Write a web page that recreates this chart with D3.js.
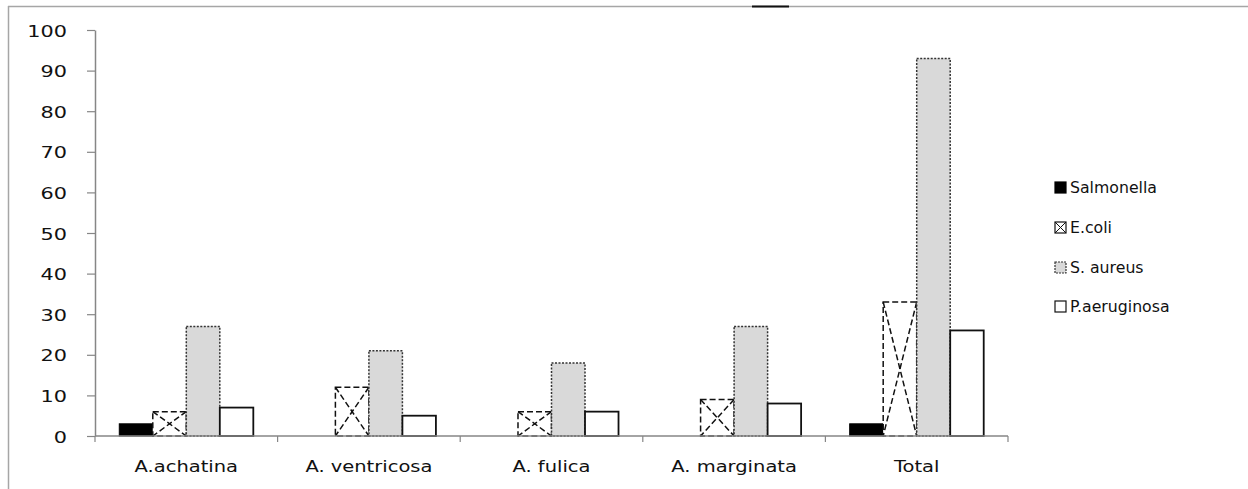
<!DOCTYPE html>
<html><head><meta charset="utf-8">
<script src="https://cdn.jsdelivr.net/npm/d3@7"></script>
<style>body{margin:0;background:#fff}svg{display:block}text{font-family:"DejaVu Sans",sans-serif;fill:#111}</style>
</head><body><svg id="c" width="1248" height="489"></svg>
<script>
const categories = ["A.achatina", "A. ventricosa", "A. fulica", "A. marginata", "Total"];
const seriesNames = ["Salmonella", "E.coli", "S. aureus", "P.aeruginosa"];
const salmonella = [3, 0, 0, 0, 3];
const ecoli = [6, 12, 6, 9, 33];
const saureus = [27, 21, 18, 27, 93];
const paeruginosa = [7, 5, 6, 8, 26];
const yTicks = [0, 10, 20, 30, 40, 50, 60, 70, 80, 90, 100];
const seriesValues = [salmonella, ecoli, saureus, paeruginosa];

const svg = d3.select("#c");
const SX = 1.3;

// frame
svg.append("line").attr("x1", 8).attr("x2", 1248).attr("y1", 6.5).attr("y2", 6.5).attr("stroke", "#a6a6a6").attr("stroke-width", 1.5);
svg.append("line").attr("x1", 8.5).attr("x2", 8.5).attr("y1", 6).attr("y2", 489).attr("stroke", "#a6a6a6").attr("stroke-width", 1.5);
svg.append("line").attr("x1", 752).attr("x2", 789).attr("y1", 6.5).attr("y2", 6.5).attr("stroke", "#111").attr("stroke-width", 2);

const x = d3.scaleBand().domain(categories).range([95, 1008]).paddingInner(0.266).paddingOuter(0.133);
const xs = d3.scaleBand().domain(seriesNames).range([0, x.bandwidth()]);
const y = d3.scaleLinear().domain([0, 100]).range([436, 30]);

// y axis
const ya = svg.append("g").attr("transform", "translate(95,0)")
  .call(d3.axisLeft(y).tickValues(yTicks).tickSize(8).tickSizeOuter(0));
ya.select(".domain").attr("stroke", "#868686").attr("stroke-width", 1.5);
ya.selectAll(".tick line").attr("stroke", "#868686").attr("stroke-width", 1.2);
ya.selectAll(".tick text").attr("x", 0).attr("dy", null).attr("y", 6)
  .attr("transform", `translate(-28,0) scale(${SX},1)`)
  .attr("font-size", 16).attr("font-family", "DejaVu Sans").attr("fill", "#111").attr("text-anchor", "end");

// bars
const g = svg.append("g");
const styles = [
  {fill: "#000", stroke: "#000", dash: null, w: 1},
  {fill: "#fff", stroke: "#111", dash: "6,3", w: 1.5},
  {fill: "#d9d9d9", stroke: "#333", dash: "2,1.5", w: 1.5},
  {fill: "#fff", stroke: "#111", dash: null, w: 1.8}
];
seriesNames.forEach((s, si) => {
  const st = styles[si];
  categories.forEach((c, ci) => {
    const v = seriesValues[si][ci];
    if (!v) return;
    const x0 = x(c) + xs(s), w = xs.bandwidth(), y0 = y(v), h = y(0) - y(v);
    g.append("rect").attr("x", x0).attr("y", y0).attr("width", w).attr("height", h)
      .attr("fill", st.fill).attr("stroke", st.stroke).attr("stroke-width", st.w)
      .attr("stroke-dasharray", st.dash);
    if (si === 1) {
      g.append("line").attr("x1", x0).attr("y1", y0).attr("x2", x0 + w).attr("y2", y(0))
        .attr("stroke", "#111").attr("stroke-width", 1.5).attr("stroke-dasharray", st.dash);
      g.append("line").attr("x1", x0 + w).attr("y1", y0).attr("x2", x0).attr("y2", y(0))
        .attr("stroke", "#111").attr("stroke-width", 1.5).attr("stroke-dasharray", st.dash);
    }
  });
});

// x axis
const xa = svg.append("g");
xa.append("line").attr("x1", 95).attr("x2", 1008).attr("y1", y(0)).attr("y2", y(0)).attr("stroke", "#868686").attr("stroke-width", 1.5);
const bounds = categories.map(c => x(c) - x.step() * x.paddingInner() / 2).concat([1008]);
bounds.forEach(b => xa.append("line").attr("x1", b).attr("x2", b).attr("y1", y(0)).attr("y2", y(0) + 6).attr("stroke", "#868686").attr("stroke-width", 1.2));
categories.forEach(c => {
  xa.append("text").attr("transform", `translate(${x(c) + x.bandwidth() / 2},472) scale(${SX},1)`)
    .attr("text-anchor", "middle").attr("font-size", 15).text(c);
});

// legend
const lg = svg.append("g");
const ly = [188, 228, 268, 307];
seriesNames.forEach((s, si) => {
  const st = styles[si];
  const cy = ly[si];
  lg.append("rect").attr("x", 1055).attr("y", cy - 6).attr("width", 11).attr("height", 11)
    .attr("fill", st.fill).attr("stroke", st.stroke).attr("stroke-width", 1.2)
    .attr("stroke-dasharray", si === 2 ? "2,1" : null);
  if (si === 1) {
    lg.append("line").attr("x1", 1055).attr("y1", cy - 6).attr("x2", 1066).attr("y2", cy + 5).attr("stroke", "#111");
    lg.append("line").attr("x1", 1066).attr("y1", cy - 6).attr("x2", 1055).attr("y2", cy + 5).attr("stroke", "#111");
  }
  lg.append("text").attr("transform", `translate(1070,${cy + 5}) scale(1.05,1)`)
    .attr("font-size", 15).text(s);
});
</script></body></html>
